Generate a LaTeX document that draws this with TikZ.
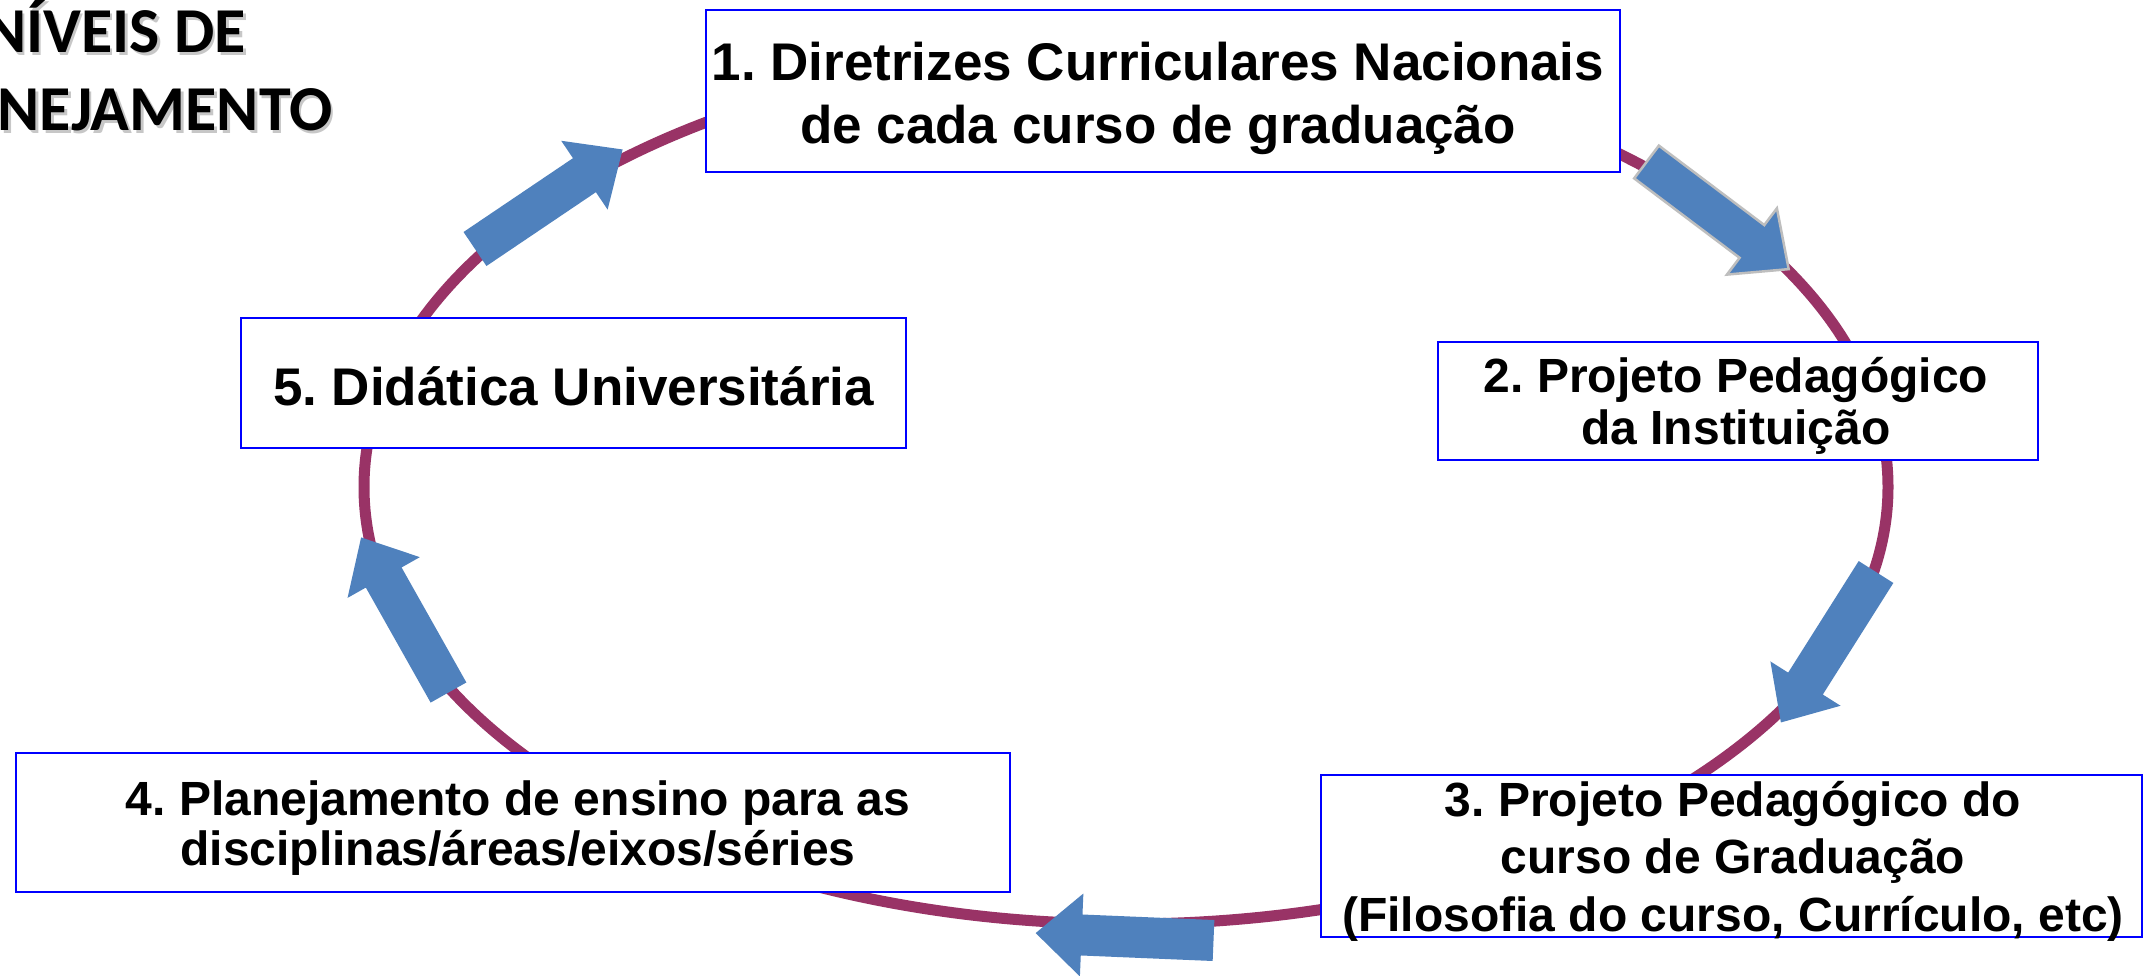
\documentclass[tikz,border=0pt]{standalone}
\usepackage{fontspec}
\setmainfont{Liberation Sans}
\newfontfamily\titlefont{Carlito}
\frenchspacing

\definecolor{ringplum}{RGB}{153,51,102}
\definecolor{arrowblue}{RGB}{79,129,189}
\definecolor{arrowrim}{RGB}{190,190,190}
\definecolor{boxblue}{RGB}{0,0,255}

\tikzset{
    pics/flowarrow/.style = {code = {
        \path[fill = arrowblue, pic actions] (0,-20.5) -- (132,-20.5) -- (132,-41.5) -- (178,0)
            -- (132,41.5) -- (132,20.5) -- (0,20.5) -- cycle;}}}

\begin{document}
\begin{tikzpicture}[
    x = 1pt, y = -1pt,
    stage/.style = {draw = boxblue, line width = 2pt, fill = white, inner sep = 0pt},
    stagetext/.style = {align = center, inner sep = 0pt},
    bigtext/.style = {font = \fontsize{53}{63}\selectfont\bfseries},
    midtext/.style = {font = \fontsize{48}{55}\selectfont\bfseries},
    headtext/.style = {font = \titlefont\fontsize{64}{78}\selectfont\bfseries, align = center, inner sep = 0pt}]

\clip (0,0) rectangle (2146,975);
\fill[white] (0,0) rectangle (2146,975);

% title
\node[headtext, text = black!22] (titleshadow) at (117.5,67.5) {NÍVEIS DE\\PLANEJAMENTO};
\node[headtext] (title) at (115,65) {NÍVEIS DE\\PLANEJAMENTO};

% cycle
\draw[ringplum, line width = 11pt] (1126,487) ellipse [x radius = 762, y radius = 437];

% arrows
\foreach \tx/\ty/\ang in {475/249/34.0, 1876/572/-122.3, 1213.5/940.5/177.6, 448.5/692.5/119.4}
    \pic[rotate = \ang] at (\tx,\ty) {flowarrow};
\pic[rotate = -37, draw = arrowrim, line width = 2.5pt] at (1646.5,162) {flowarrow};

% stages
\node[stage, minimum width = 914pt, minimum height = 162pt] (dcn) at (1163,91) {};
\node[stagetext, bigtext] (dcntext) at (1158,98)
    {1. Diretrizes Curriculares Nacionais\\de cada curso de graduação};

\node[stage, minimum width = 600pt, minimum height = 118pt] (ppi) at (1738,401) {};
\node[stagetext, font = \fontsize{48}{52}\selectfont\bfseries] (ppitext) at (1736,406)
    {2. Projeto Pedagógico\\da Instituição};

\node[stage, minimum width = 821pt, minimum height = 162pt] (ppc) at (1731,856) {};
\node[stagetext, font = \fontsize{48}{57.5}\selectfont\bfseries] (ppctext) at (1733,861)
    {3. Projeto Pedagógico do\\curso de Graduação\\(Filosofia do curso, Currículo, etc)};

\node[stage, minimum width = 994pt, minimum height = 139pt] (pde) at (513,822.5) {};
\node[stagetext, font = \fontsize{48}{50}\selectfont\bfseries] (pdetext) at (518,828)
    {4. Planejamento de ensino para as\\disciplinas/áreas/eixos/séries};

\node[stage, minimum width = 665pt, minimum height = 130pt] (du) at (573.5,383) {};
\node[stagetext, bigtext] (dutext) at (573.5,386) {5. Didática Universitária};
\end{tikzpicture}
\end{document}
